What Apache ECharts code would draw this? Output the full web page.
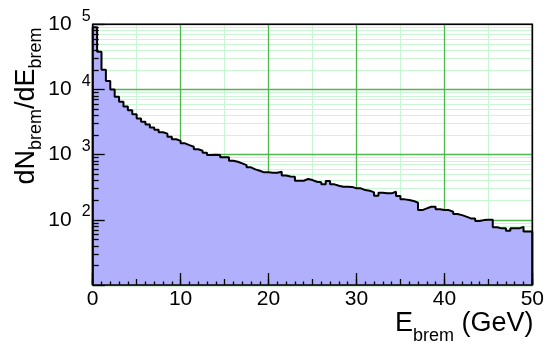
<!DOCTYPE html>
<html>
<head>
<meta charset="utf-8">
<script src="https://cdn.jsdelivr.net/npm/echarts@6/dist/echarts.min.js"></script>
<style>
  html, body { margin: 0; padding: 0; background: #fff; }
  #chart { width: 547px; height: 350px; }
</style>
</head>
<body>
<div id="chart"></div>
<script>
// Bremsstrahlung photon energy spectrum: 100 bins of 0.5 GeV from 0 to 50 GeV
const binWidth = 0.5;
const counts = [
  90000, 38000, 20000, 13500, 10000, 7700, 6500, 5500, 4800, 4150,
  3600, 3200, 2900, 2600, 2400, 2200, 2100, 1880, 1720, 1630,
  1490, 1400, 1320, 1210, 1150, 1070, 990, 1000, 986, 910,
  910, 807, 778, 735, 692, 638, 595, 566, 535, 535,
  527, 527, 547, 480, 462, 458, 398, 398, 423, 407,
  384, 376, 350, 393, 350, 333, 322, 322, 320, 304,
  304, 286, 280, 264, 234, 260, 255, 255, 270, 232,
  206, 201, 195, 183, 141, 150, 159, 159, 145, 141,
  141, 133, 123, 118, 112, 105, 105, 96, 99, 100,
  100, 77, 74, 74, 68, 74, 74, 78, 66, 66
];
const xRange = [0, 50];
const yRange = [10, 100000];
const yDecadeLabels = [100, 1000, 10000, 100000];
const yMinorValues = [
  20, 30, 40, 50, 60, 70, 80, 90,
  200, 300, 400, 500, 600, 700, 800, 900,
  2000, 3000, 4000, 5000, 6000, 7000, 8000, 9000,
  20000, 30000, 40000, 50000, 60000, 70000, 80000, 90000
];

const FONT = '"Liberation Sans", Arial, Helvetica, sans-serif';
const MAJOR_GRID = '#4fb84f';
const MINOR_GRID = '#c9f6d3';
const FILL = '#b0b0fc';

// Outline of the histogram: one point at each bin's low edge, closed down to the axis floor
const stepData = [[xRange[0], yRange[0]]];
counts.forEach((c, i) => stepData.push([xRange[0] + i * binWidth, c]));
stepData.push([xRange[0] + counts.length * binWidth, counts[counts.length - 1]]);
stepData.push([xRange[0] + counts.length * binWidth, yRange[0]]);

const hidden = { show: false };

function xBase(extra) {
  return Object.assign({
    type: 'value', gridIndex: 0, position: 'bottom', min: xRange[0], max: xRange[1],
    axisLine: { show: false, onZero: false }, axisTick: hidden, axisLabel: hidden,
    splitLine: hidden
  }, extra);
}
function yBase(extra) {
  return Object.assign({
    type: 'log', logBase: 10, gridIndex: 0, position: 'left', min: yRange[0], max: yRange[1],
    axisLine: { show: false, onZero: false }, axisTick: hidden, axisLabel: hidden,
    splitLine: hidden
  }, extra);
}

// Axis titles with subscripts, laid out piece by piece
const measureCtx = document.createElement('canvas').getContext('2d');
function textWidth(t, size) {
  measureCtx.font = size + 'px ' + FONT;
  return measureCtx.measureText(t).width;
}
function pieces(parts, startX, mainY, subY) {
  let x = startX;
  return parts.map(p => {
    const el = {
      type: 'text', x: x, y: p.sub ? subY : mainY,
      style: {
        text: p.t, font: p.s + 'px ' + FONT, fill: '#000',
        textAlign: 'left', align: 'left',
        textVerticalAlign: 'middle', verticalAlign: 'middle'
      }
    };
    x += textWidth(p.t, p.s);
    return el;
  });
}
function totalWidth(parts) {
  return parts.reduce((s, p) => s + textWidth(p.t, p.s), 0);
}

const xTitleParts = [
  { t: 'E', s: 27, sub: false },
  { t: 'brem', s: 18, sub: true },
  { t: ' (GeV)', s: 27, sub: false }
];
const yTitleParts = [
  { t: 'dN', s: 27, sub: false },
  { t: 'brem', s: 18, sub: true },
  { t: '/dE', s: 27, sub: false },
  { t: 'brem', s: 18, sub: true }
];
const xTitleW = totalWidth(xTitleParts);
const yTitleW = totalWidth(yTitleParts);

const option = {
  animation: false,
  backgroundColor: '#fff',
  grid: {
    left: 92.7, right: 13, top: 24.3, bottom: 65,
    show: true, z: 10, backgroundColor: 'transparent',
    borderColor: '#000', borderWidth: 1.6
  },
  xAxis: [
    // major vertical grid lines
    xBase({ interval: 10, z: 1, splitLine: { show: true, lineStyle: { color: MAJOR_GRID, width: 1.3 } } }),
    // light vertical grid lines every 5 GeV
    xBase({ interval: 5, z: 0, splitLine: { show: true, lineStyle: { color: MINOR_GRID, width: 1 } } }),
    // inner ticks: 5 GeV ticks and 1 GeV minor ticks
    xBase({
      interval: 5, z: 12,
      axisTick: { show: true, inside: true, length: 6, lineStyle: { color: '#000', width: 1.3 } },
      minorTick: { show: true, splitNumber: 5, length: 3.5, lineStyle: { color: '#000', width: 1.3 } }
    }),
    // major ticks with labels
    xBase({
      interval: 10, z: 12,
      axisTick: { show: true, inside: true, length: 12, lineStyle: { color: '#000', width: 1.3 } },
      axisLabel: { show: true, margin: 4, color: '#000', fontFamily: FONT, fontSize: 21 }
    })
  ],
  yAxis: [
    // decade grid lines
    yBase({ z: 1, splitLine: { show: true, lineStyle: { color: MAJOR_GRID, width: 1.3 } } }),
    // 2..9 grid lines inside each decade
    yBase({
      z: 0,
      axisTick: { show: false, customValues: yMinorValues },
      splitLine: { show: true, lineStyle: { color: MINOR_GRID, width: 1 } }
    }),
    // decade ticks and the base of the labels
    yBase({
      z: 12,
      axisTick: { show: true, inside: true, length: 12, lineStyle: { color: '#000', width: 1.3 } },
      axisLabel: {
        show: true, customValues: yDecadeLabels, margin: 21, color: '#000',
        fontFamily: FONT, fontSize: 21, formatter: () => '10'
      }
    }),
    // minor ticks and the exponents
    yBase({
      z: 12,
      axisTick: { show: true, inside: true, length: 6, customValues: yMinorValues, lineStyle: { color: '#000', width: 1.3 } },
      axisLabel: {
        show: true, customValues: yDecadeLabels, margin: 2, color: '#000',
        fontFamily: FONT, fontSize: 16, verticalAlign: 'bottom',
        formatter: v => String(Math.round(Math.log10(v)))
      }
    })
  ],
  series: [{
    type: 'line',
    xAxisIndex: 0, yAxisIndex: 0,
    z: 2,
    step: 'end',
    showSymbol: false,
    symbol: 'none',
    data: stepData,
    lineStyle: { color: '#000', width: 2 },
    areaStyle: { color: FILL, opacity: 1, origin: 'start' }
  }],
  graphic: [
    {
      type: 'group', x: 0, y: 0,
      children: pieces(xTitleParts, 533.5 - xTitleW, 323.5, 336)
    },
    {
      type: 'group', x: 26.5, y: 106 + yTitleW / 2, rotation: Math.PI / 2,
      children: pieces(yTitleParts, 0, 0, 9.5)
    }
  ]
};

const chart = echarts.init(document.getElementById('chart'), null, { renderer: 'canvas' });
chart.setOption(option);
</script>
</body>
</html>
